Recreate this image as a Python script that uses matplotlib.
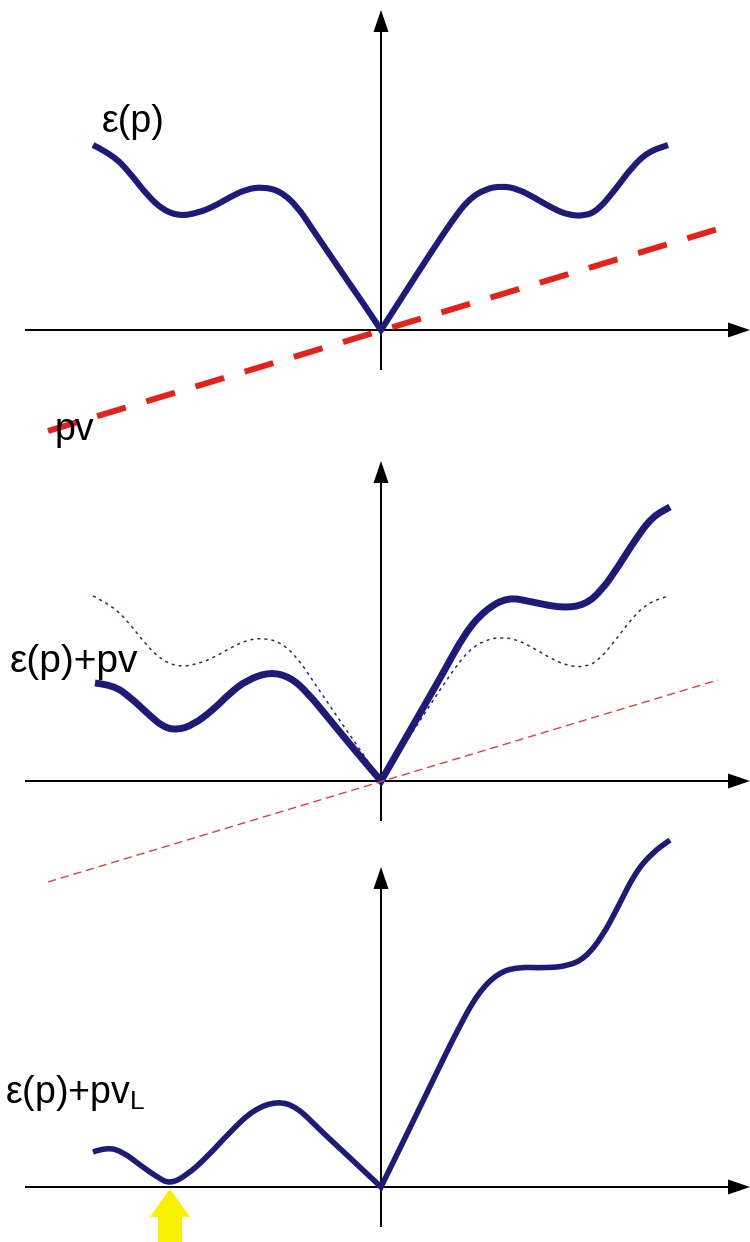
import matplotlib
matplotlib.use("Agg")
import matplotlib.pyplot as plt
from matplotlib.path import Path
from matplotlib.patches import PathPatch

plt.rcParams['font.family'] = ['Liberation Sans', 'DejaVu Sans']
plt.rcParams['mathtext.fontset'] = 'custom'
plt.rcParams['mathtext.rm'] = 'Liberation Sans'

# all values are read off the picture, in pixels measured from each panel's origin
# epsilon(p) -- top panel, also the dotted curve of the middle panel
eps_p = [-288, -268, -251, -234, -218, -201, -184, -168, -151, -134, -118, -101,
         -84, -68, -51, -34, -18, 0,
         27, 51, 71, 87, 104, 121, 137, 154, 171, 187, 204, 217, 234, 251, 267, 287]
eps_h = [185, 175, 157, 135, 120, 114, 117, 123, 133, 141, 143, 139,
         124, 100, 75, 50, 27, 0,
         42, 79, 109, 130, 141, 144, 141, 132, 122, 115, 114, 120, 140, 163, 178, 185]

# epsilon(p) + pv -- middle panel
eps_pv_p = [-286, -268, -251, -234, -218, -204, -188, -168, -151, -134, -111, -91,
            -74, -51, -28, 0,
            27, 61, 84, 104, 127, 151, 181, 204, 221, 237, 254, 271, 289]
eps_pv_h = [98, 96, 84, 68, 54, 51, 56, 71, 88, 101, 109, 104,
            89, 61, 33, 0,
            47, 106, 148, 171, 184, 179, 173, 176, 191, 214, 241, 264, 274]

# epsilon(p) + pv_L -- bottom panel
eps_pvl_p = [-288, -274, -258, -241, -224, -211, -194, -174, -151, -128, -104, -84,
             -61, -34, 0,
             27, 54, 77, 97, 117, 137, 164, 187, 204, 221, 237, 254, 271, 289]
eps_pvl_h = [35, 40, 35, 22, 10, 3, 12, 30, 55, 77, 86, 80,
             57, 32, 0,
             55, 111, 158, 194, 214, 220, 219, 221, 229, 250, 280, 314, 334, 347]

# the straight line pv
pv_p = [-333, 337]
pv_h = [-101, 101]

# Landau minimum marked by the yellow arrow
landau_p = -211

# where each panel's origin sits in the 750x1242 picture
W, H = 750, 1242
origin_x = 381
origin_y = [330, 781, 1187]

blue = '#1e1b78'
red = '#e3231b'
label_size = 27


def smooth_piece(p, h):
    # quadratic b-spline through the read points, first and last kept exact
    verts = [(p[0], h[0])]
    codes = [Path.MOVETO]
    for i in range(1, len(p) - 1):
        verts.append((p[i], h[i]))
        verts.append(((p[i] + p[i + 1]) / 2, (h[i] + h[i + 1]) / 2))
        codes += [Path.CURVE3, Path.CURVE3]
    verts.append((p[-1], h[-1]))
    codes.append(Path.LINETO)
    return verts, codes


def curve_path(p, h):
    # keep the cusp at p = 0 sharp: smooth each side on its own
    k = p.index(0)
    v1, c1 = smooth_piece(p[:k + 1], h[:k + 1])
    v2, c2 = smooth_piece(p[k:], h[k:])
    return Path(v1 + v2[1:], c1 + c2[1:])


def draw_curve(ax, p, h, **kw):
    patch = PathPatch(curve_path(p, h), fill=False, capstyle='butt',
                      joinstyle='miter', **kw)
    ax.add_patch(patch)


def panel_axes(fig, oy):
    ax = fig.add_axes([0, 0, 1, 1])
    ax.set_xlim(-origin_x, W - origin_x)
    ax.set_ylim(oy - H, oy)
    ax.patch.set_alpha(0)
    ax.axis('off')
    return ax


def draw_axes(ax):
    # horizontal and vertical axes with filled arrow heads
    ax.arrow(25 - origin_x, 0, W - 25, 0, width=2, head_width=15,
             head_length=22, length_includes_head=True, color='black', lw=0)
    ax.arrow(0, -40, 0, 360, width=2, head_width=15,
             head_length=22, length_includes_head=True, color='black', lw=0)


fig = plt.figure(figsize=(W / 100, H / 100), dpi=100)

# top panel
ax1 = panel_axes(fig, origin_y[0])
draw_axes(ax1)
draw_curve(ax1, eps_p, eps_h, edgecolor=blue, lw=4.4)
ax1.plot(pv_p, pv_h, color=red, lw=4.3, dashes=(5, 3.6), dash_capstyle='butt')
ax1.text(-279, 198, 'ε(p)', fontsize=label_size, ha='left', va='baseline')
ax1.text(-326, -110, 'pv', fontsize=label_size, ha='left', va='baseline')

# middle panel
ax2 = panel_axes(fig, origin_y[1])
draw_axes(ax2)
draw_curve(ax2, eps_p, eps_h, edgecolor='#2b2a7a', lw=1.1, ls=(0, (2, 2.6)))
ax2.plot(pv_p, pv_h, color='#d9453d', lw=1.0, dashes=(6, 3.5))
draw_curve(ax2, eps_pv_p, eps_pv_h, edgecolor=blue, lw=5.0)
ax2.text(-371, 109, 'ε(p)+pv', fontsize=label_size + 1, ha='left',
         va='baseline')

# bottom panel
ax3 = panel_axes(fig, origin_y[2])
draw_axes(ax3)
draw_curve(ax3, eps_pvl_p, eps_pvl_h, edgecolor=blue, lw=4.0)
ax3.text(-376, 84, r'ε(p)+pv$_\mathregular{L}$', fontsize=label_size,
         ha='left', va='baseline')
ax3.arrow(landau_p, -60, 0, 58, width=24, head_width=40, head_length=28,
          length_includes_head=True, color='#f7f000', lw=0, zorder=5)

fig.savefig('out.png', dpi=100)
